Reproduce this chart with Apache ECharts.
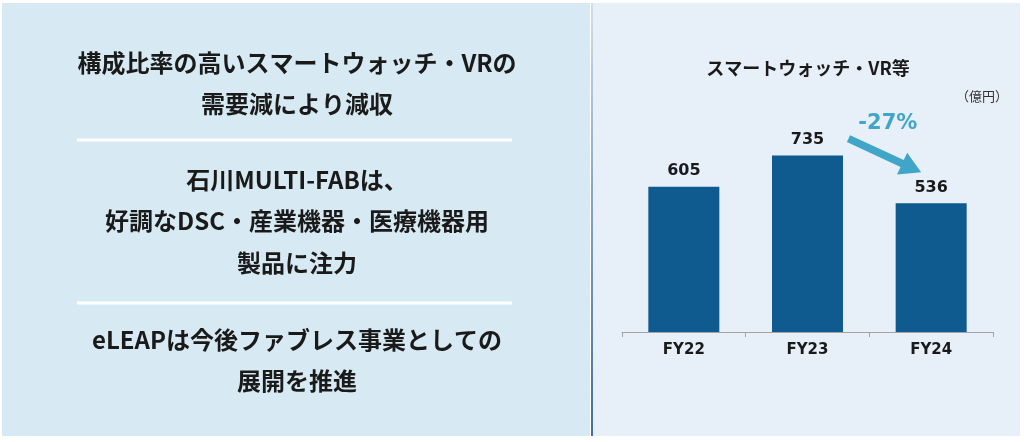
<!DOCTYPE html>
<html>
<head>
<meta charset="utf-8">
<script src="https://cdn.jsdelivr.net/npm/echarts@6/dist/echarts.min.js"></script>
<style>
html,body{margin:0;padding:0;background:#ffffff;}
#chart{width:1024px;height:442px;}
</style>
</head>
<body>
<div id="chart"></div>
<script>
// ---- data ----
const categories = ['FY22', 'FY23', 'FY24'];
const values = [605, 735, 536];
const chartTitle = 'スマートウォッチ・VR等';
const unitLabel = '（億円）';
const changeLabel = '-27%';
const group1 = ['構成比率の高いスマートウォッチ・VRの', '需要減により減収'];
const group2 = ['石川MULTI-FABは、', '好調なDSC・産業機器・医療機器用', '製品に注力'];
const group3 = ['eLEAPは今後ファブレス事業としての', '展開を推進'];

// ---- styles ----
const JP = '"Noto Sans CJK JP", "Noto Sans", sans-serif';
const NUM = '"DejaVu Sans", "Noto Sans", sans-serif';
const TEXT = '#1a1a1a';
const BAR = '#0f5a8f';
const ARROW = '#3fa6ca';

const chart = echarts.init(document.getElementById('chart'), null, {renderer: 'canvas'});

const option = {
  animation: false,
  backgroundColor: '#ffffff',
  grid: {left: 622, right: 31, top: 92, bottom: 110, containLabel: false},
  xAxis: {
    type: 'category',
    data: categories,
    axisLine: {lineStyle: {color: '#a0a4a8', width: 1}},
    axisTick: {show: true, length: 5, alignWithLabel: false, lineStyle: {color: '#a0a4a8'}},
    axisLabel: {color: TEXT, fontFamily: NUM, fontWeight: 'bold', fontSize: 15, margin: 11}
  },
  yAxis: {type: 'value', min: 0, max: 1000, show: false, splitLine: {show: false}},
  series: [{
    type: 'bar',
    data: values,
    barWidth: 71,
    itemStyle: {color: BAR},
    label: {show: true, position: 'top', distance: 8, color: TEXT, fontFamily: NUM, fontWeight: 'bold', fontSize: 16}
  }]
};
chart.setOption(option);

// ---- decorations ----
const graphics = [];
// panels
graphics.push({type: 'rect', z: -10, shape: {x: 2, y: 3, width: 588, height: 433}, style: {fill: '#d7eaf3'}});
graphics.push({type: 'rect', z: -10, shape: {x: 593, y: 3, width: 427, height: 433}, style: {fill: '#e7eff9'}});
graphics.push({type: 'rect', z: -9, shape: {x: 591, y: 3, width: 2, height: 433}, style: {
  fill: new echarts.graphic.LinearGradient(0, 0, 0, 1, [
    {offset: 0, color: '#d4dde6'}, {offset: 0.4, color: '#8fa9c4'}, {offset: 1, color: '#3f6e9e'}
  ])
}});
// separators
[140, 303].forEach(y => graphics.push({type: 'rect', z: -5, shape: {x: 77, y: y - 1.5, width: 435, height: 3}, style: {fill: '#ffffff'}}));

// left texts
const lineYs = [[63, 104], [180, 221, 263], [340, 381]];
[group1, group2, group3].forEach((g, gi) => {
  g.forEach((t, li) => {
    graphics.push({type: 'text', z: 5, style: {
      text: t, x: 297, y: lineYs[gi][li], fill: TEXT,
      font: 'bold 24px ' + JP, align: 'center', verticalAlign: 'middle',
      textAlign: 'center', textVerticalAlign: 'middle'
    }});
  });
});

// chart title and unit
graphics.push({type: 'text', z: 5, style: {text: chartTitle, x: 808, y: 68, fill: TEXT,
  font: 'bold 18px ' + JP, align: 'center', verticalAlign: 'middle', textAlign: 'center', textVerticalAlign: 'middle'}});
graphics.push({type: 'text', z: 5, style: {text: unitLabel, x: 1008, y: 96, fill: '#333333',
  font: '13px ' + JP, align: 'right', verticalAlign: 'middle', textAlign: 'right', textVerticalAlign: 'middle'}});

// arrow between FY23 and FY24
const p23 = chart.convertToPixel({seriesIndex: 0}, [categories[1], values[1]]);
const p24 = chart.convertToPixel({seriesIndex: 0}, [categories[2], values[2]]);
const S = [p23[0] + 41, p23[1] - 17];
const T = [p24[0] - 10, p24[1] - 31];
const dx = T[0] - S[0], dy = T[1] - S[1];
const len = Math.sqrt(dx * dx + dy * dy);
const d = [dx / len, dy / len];
const n = [-d[1], d[0]];
const hw = 3.8, hl = 21, hh = 12;
const B = [T[0] - hl * d[0], T[1] - hl * d[1]];
const pt = (P, k) => [P[0] + k * n[0], P[1] + k * n[1]];
graphics.push({type: 'polygon', z: 6, shape: {points: [
  pt(S, hw), pt(B, hw), pt(B, hh), T, pt(B, -hh), pt(B, -hw), pt(S, -hw)
]}, style: {fill: ARROW}});
graphics.push({type: 'text', z: 6, style: {text: changeLabel,
  x: (S[0] + T[0]) / 2 + 3, y: (S[1] + T[1]) / 2 - 32, fill: ARROW,
  font: 'bold 21px ' + NUM, align: 'center', verticalAlign: 'middle', textAlign: 'center', textVerticalAlign: 'middle'}});

chart.setOption({graphic: graphics});
</script>
</body>
</html>
